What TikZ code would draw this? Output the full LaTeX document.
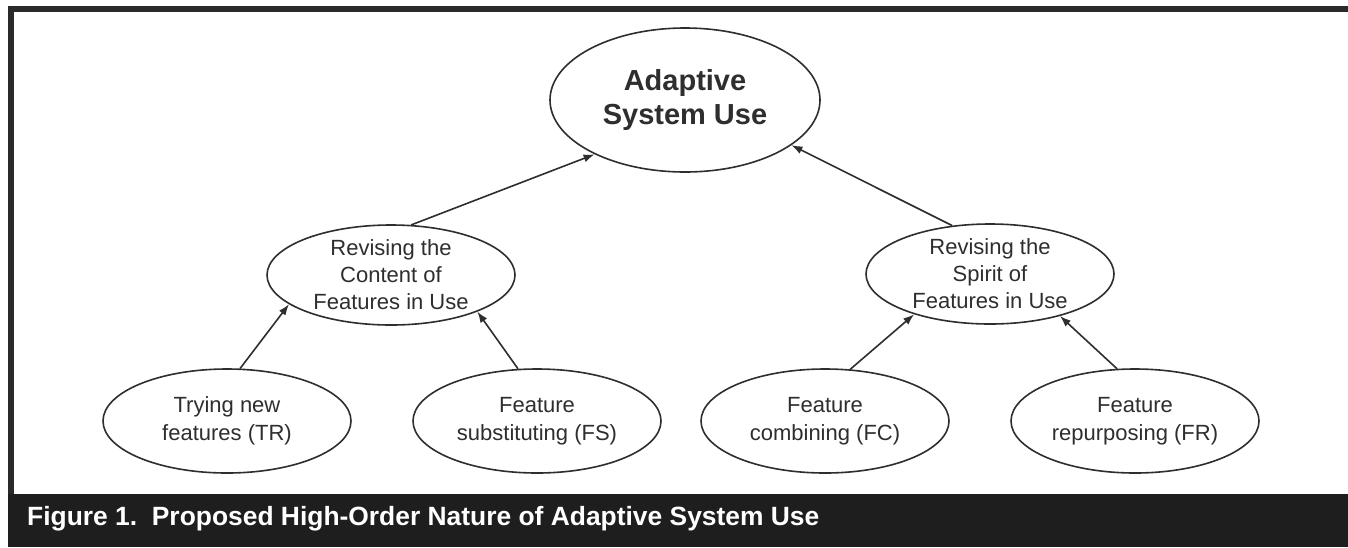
\documentclass[tikz,border=0pt]{standalone}
\usepackage{fontspec}
\setmainfont{Liberation Sans}
\usetikzlibrary{shapes.geometric,arrows.meta}
\definecolor{ink}{HTML}{2E2E2E}
\definecolor{framecol}{HTML}{2A2A2A}
\definecolor{barcol}{HTML}{1E1E1E}

\begin{document}
\begin{tikzpicture}[x=1pt,y=-1pt,
  oval/.style={ellipse,draw=ink,line width=1.6pt,inner sep=0pt,align=center,text=ink},
  goal/.style={oval,minimum width=270pt,minimum height=144pt,font=\fontsize{29}{34}\selectfont\bfseries},
  dimension/.style={oval,minimum width=248pt,minimum height=100pt,font=\fontsize{22}{27}\selectfont},
  leaf/.style={oval,minimum width=248pt,minimum height=104pt,font=\fontsize{22}{28}\selectfont},
  link/.style={draw=ink,line width=1.6pt,-{Latex[length=11pt,width=8pt]}},
  caption/.style={anchor=base west,inner sep=0pt,text=white,font=\fontsize{26.4}{30}\selectfont\bfseries}]

\useasboundingbox (0,0) rectangle (1348,547);
\fill[white] (0,0) rectangle (1348,547);

% frame: top rule, left rule and the caption bar
\fill[framecol] (8,6) rectangle (1348,12);
\fill[framecol] (8,6) rectangle (14,547);
\fill[barcol] (8,494) rectangle (1348,547);

% second-order construct
\node[goal] (asu) at (685,100) {Adaptive\\System Use};

% first-order dimensions
\node[dimension] (content) at (391,275) {Revising the\\Content of\\Features in Use};
\node[dimension] (spirit) at (990,274) {Revising the\\Spirit of\\Features in Use};

% behaviours
\node[leaf] (tr) at (227,421) {Trying new\\features (TR)};
\node[leaf] (fs) at (537,421) {Feature\\substituting (FS)};
\node[leaf] (fc) at (825,421) {Feature\\combining (FC)};
\node[leaf] (fr) at (1135,421) {Feature\\repurposing (FR)};

% links
\draw[link] (tr.76) -- (content.196);
\draw[link] (fs.110) -- (content.337);
\draw[link] (content.68) -- (asu.211);
\draw[link] (spirit.128) -- (asu.337);
\draw[link] (fc.64) -- (spirit.208);
\draw[link] (fr.109) -- (spirit.329);

% caption
\node[caption] (cap) at (27,525) {Figure 1.\ \ Proposed High-Order Nature of Adaptive System Use};
\end{tikzpicture}
\end{document}
